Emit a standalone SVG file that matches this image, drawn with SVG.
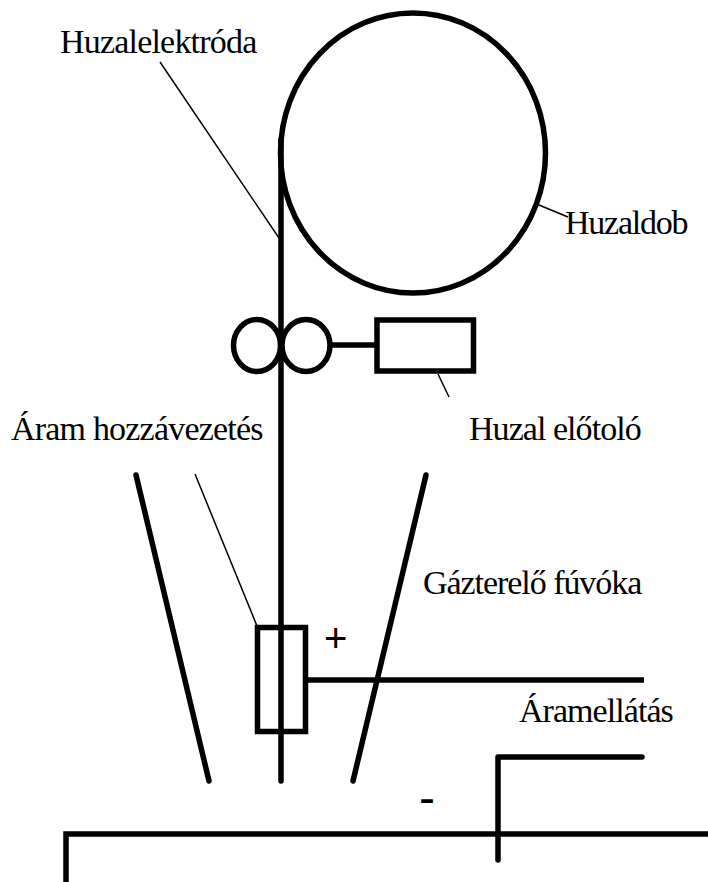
<svg xmlns="http://www.w3.org/2000/svg" width="708" height="882" viewBox="0 0 708 882">
<style>
.b{fill:none;stroke:#000;stroke-width:5.5}
.c{stroke-linecap:round;stroke-linejoin:round}
.t{fill:none;stroke:#000;stroke-width:1.5}
text{font-family:"Liberation Serif",serif;font-size:34px;fill:#000;letter-spacing:-0.95px}
.s{font-family:"Liberation Sans",sans-serif;letter-spacing:0}
</style>
<rect width="708" height="882" fill="#fff"/>
<g id="connectors">
<path class="b c" d="M281 781V140"/>
<path class="b" d="M332 345H377"/>
<path class="b" d="M305 680H644"/>
<path class="b c" d="M642 757H498V860"/>
<path class="b" d="M708 834H66V882"/>
<path class="b c" d="M136 475L209 781"/>
<path class="b c" d="M426 475L353 781"/>
<path class="t" d="M160 62L279 238"/>
<path class="t" d="M539 205L568 217"/>
<path class="t" d="M438 374L449 397"/>
<path class="t" d="M195 474L257 626"/>
</g>
<g id="huzaldob"><ellipse class="b" cx="413" cy="153" rx="132.500" ry="140"/><text x="565" y="234" style="letter-spacing:-1.25px">Huzaldob</text></g>
<g id="gorgo1"><ellipse class="b" cx="257" cy="345.500" rx="23.500" ry="26"/></g>
<g id="gorgo2"><ellipse class="b" cx="306" cy="345.500" rx="24" ry="26"/></g>
<g id="eloto"><rect class="b" x="377" y="320" width="96.500" height="51"/><text x="469" y="440">Huzal előtoló</text></g>
<g id="aram"><rect class="b" x="257.500" y="627.500" width="48" height="104"/><text x="11" y="440" style="letter-spacing:-0.8px">Áram hozzávezetés</text></g>
<g id="labels">
<text x="60" y="53" style="letter-spacing:-0.8px">Huzalelektróda</text>
<text x="423" y="594" style="letter-spacing:-1.05px">Gázterelő fúvóka</text>
<text class="s" x="324" y="652" style="font-size:40px;font-weight:400">+</text>
<text x="519" y="722">Áramellátás</text>
<text class="s" x="419" y="814" style="font-size:48px">-</text>
</g>
</svg>
